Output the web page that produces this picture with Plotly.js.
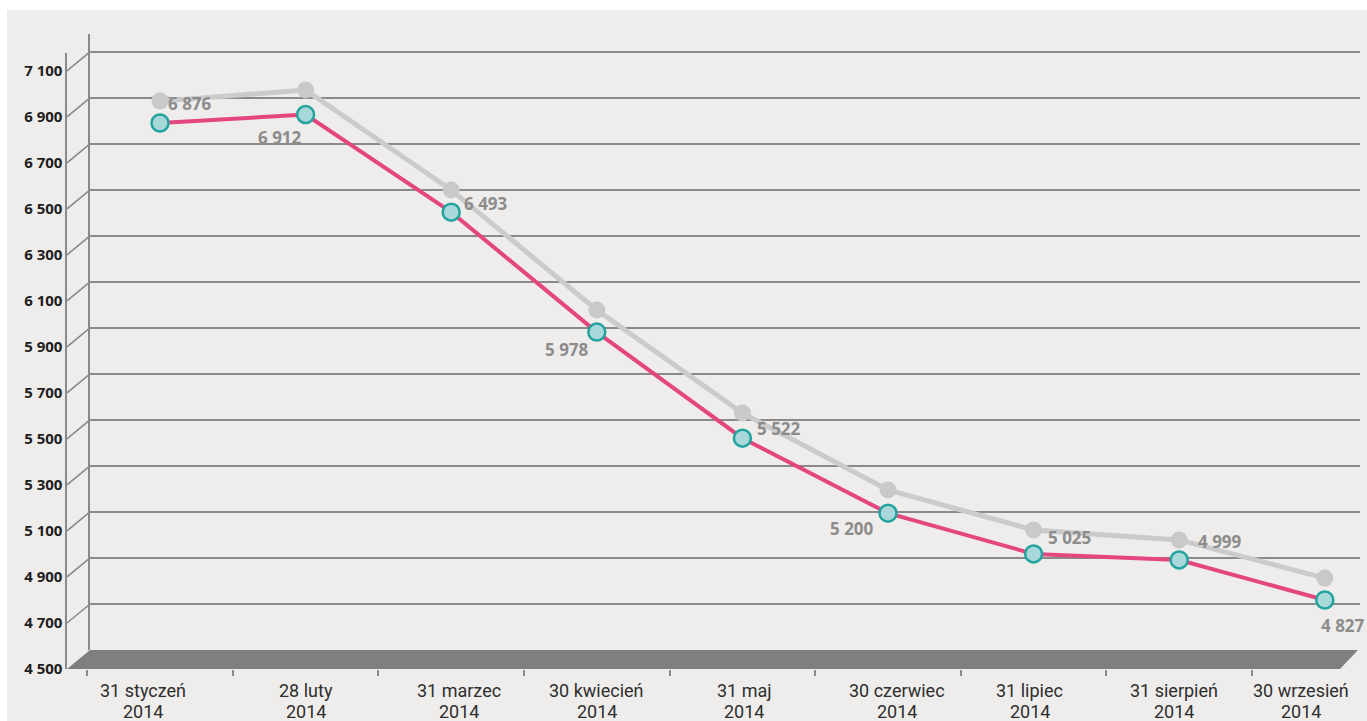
<!DOCTYPE html>
<html>
<head>
<meta charset="utf-8">
<script src="https://cdn.plot.ly/plotly-3.0.1.min.js"></script>
<style>html,body{margin:0;padding:0;background:#fff;}#chart{width:1367px;height:721px;}</style>
</head>
<body>
<div id="chart"></div>
<script>
// ---- data ----
const months = ["31 styczeń", "28 luty", "31 marzec", "30 kwiecień", "31 maj", "30 czerwiec", "31 lipiec", "31 sierpień", "30 wrzesień"];
const years = ["2014", "2014", "2014", "2014", "2014", "2014", "2014", "2014", "2014"];
const mainValues = [6876, 6912, 6493, 5978, 5522, 5200, 5025, 4999, 4827];
const shadowValues = [6970, 7018, 6588, 6073, 5630, 5300, 5128, 5085, 4921];
const yTickVals = [4500, 4700, 4900, 5100, 5300, 5500, 5700, 5900, 6100, 6300, 6500, 6700, 6900, 7100];
const yTickText = ["4 500", "4 700", "4 900", "5 100", "5 300", "5 500", "5 700", "5 900", "6 100", "6 300", "6 500", "6 700", "6 900", "7 100"];

// ---- layout helpers (pixels -> paper) ----
const W = 1367, H = 721;
const px = x => x / W;
const py = y => 1 - y / H;
const front = {bot: 669, top: 53, lo: 4500, hi: 7178, x: 67};
const back = {bot: 650, top: 34, lo: 4500, hi: 7178, x: 90, right: 1360};
const fy = v => front.bot - (v - front.lo) * (front.bot - front.top) / (front.hi - front.lo);
const by = v => back.bot - (v - back.lo) * (back.bot - back.top) / (back.hi - back.lo);

const cats = months.map((m, i) => m + " " + years[i]);
const fmt = v => String(v).replace(/\B(?=(\d{3})+(?!\d))/g, " ");

// label offsets relative to main point (pixels)
const labelShift = [[30, 19], [-26, -23], [35, 9], [-30, -17], [37, 10], [-36, -15], [36, 16], [41, 18], [18, -25]];
// category label horizontal nudges (pixels)
const catShift = [-17, 0, 8, 0, 2, 9, -4, -5, -24];

const traces = [
  { x: [0.5], y: [5000], xaxis: "x", yaxis: "y", type: "scatter", mode: "markers",
    marker: {opacity: 0}, hoverinfo: "skip", showlegend: false },
  { x: [0.5], y: [5000], xaxis: "x2", yaxis: "y2", type: "scatter", mode: "markers",
    marker: {opacity: 0}, hoverinfo: "skip", showlegend: false },
  {
    x: cats, y: shadowValues, xaxis: "x3", yaxis: "y3", type: "scatter", mode: "lines+markers",
    line: {color: "#cbcbcb", width: 5}, marker: {size: 17, color: "#c9c9c9"},
    hoverinfo: "skip", showlegend: false
  },
  {
    x: cats, y: mainValues, xaxis: "x3", yaxis: "y3", type: "scatter", mode: "lines+markers",
    line: {color: "#e4477f", width: 4}, marker: {size: 17, color: "#a9d8db", line: {color: "#22a39d", width: 2.5}},
    showlegend: false
  }
];

const shapes = [];
shapes.push({type: "rect", xref: "paper", yref: "paper", x0: px(7), x1: 1, y0: 0, y1: py(10),
  fillcolor: "#efedeb", line: {width: 0}, layer: "below"});
yTickVals.forEach(v => {
  if (v === 4500) return;
  shapes.push({type: "line", xref: "paper", yref: "paper",
    x0: px(front.x), y0: py(fy(v)), x1: px(back.x), y1: py(by(v)),
    line: {color: "#8a8a8a", width: 1.6}});
});
shapes.push({type: "path", xref: "paper", yref: "paper",
  path: `M ${px(front.x)} ${py(fy(4500))} L ${px(back.x)} ${py(by(4500))} L ${px(1358)} ${py(by(4500))} L ${px(1340)} ${py(fy(4500))} Z`,
  fillcolor: "#7f7f7f", line: {width: 0}});

const annotations = mainValues.map((v, i) => ({
  x: i, y: v, xref: "x3", yref: "y3", text: fmt(v), showarrow: false,
  xshift: labelShift[i][0], yshift: labelShift[i][1],
  font: {family: "Open Sans, Noto Sans, sans-serif", size: 17, color: "#8c8c8c", weight: "bold"}
}));
const catFont = {family: "Liberation Sans Narrow, Roboto, sans-serif", size: 18, color: "#2e2e2e"};
months.forEach((m, i) => {
  annotations.push({
    x: i, y: py(690), xref: "x3", yref: "paper", yanchor: "middle", text: m, showarrow: false,
    xshift: catShift[i], font: catFont
  });
  annotations.push({
    x: i, y: py(711), xref: "x3", yref: "paper", yanchor: "middle", text: years[i], showarrow: false,
    xshift: catShift[i], font: catFont
  });
});

const layout = {
  width: W, height: H,
  margin: {l: 0, r: 0, t: 0, b: 0, pad: 0},
  paper_bgcolor: "#ffffff", plot_bgcolor: "rgba(0,0,0,0)",
  showlegend: false,
  xaxis: { domain: [px(back.x), px(back.right)], anchor: "y", range: [0, 1], visible: false, fixedrange: true },
  yaxis: {
    domain: [py(back.bot), py(back.top)], range: [back.lo, back.hi], anchor: "x",
    showgrid: true, gridcolor: "#8a8a8a", gridwidth: 2,
    tickvals: yTickVals.filter(v => v > 4500), showticklabels: false, ticks: "",
    zeroline: false, showline: true, linecolor: "#8a8a8a", linewidth: 2, fixedrange: true
  },
  xaxis2: { domain: [px(front.x), px(front.x + 2)], anchor: "y2", range: [0, 1], visible: false, fixedrange: true },
  yaxis2: {
    domain: [py(front.bot), py(front.top)], range: [front.lo, front.hi], anchor: "x2", side: "left",
    showgrid: false, zeroline: false, showline: true, linecolor: "#8a8a8a", linewidth: 1.6,
    tickvals: yTickVals, ticktext: yTickText, ticks: "",
    tickfont: {family: "Open Sans, Noto Sans, sans-serif", size: 15, color: "#1e1e1e", weight: "bold"},
    automargin: false, fixedrange: true
  },
  xaxis3: {
    type: "category", domain: [px(66), 1], anchor: "y3",
    range: [(66 - 160) / 145.6, (1367 - 160) / 145.6],
    showgrid: false, zeroline: false, showline: false, showticklabels: false,
    ticks: "outside", tickson: "boundaries", ticklen: 6, tickwidth: 2, tickcolor: "#8a8a8a",
    automargin: false, fixedrange: true
  },
  yaxis3: {
    domain: [py(front.bot), py(front.top)], anchor: "x3", range: [4530.6, 7176.7],
    showgrid: false, zeroline: false, showline: false, showticklabels: false, ticks: "", fixedrange: true
  },
  shapes: shapes,
  annotations: annotations
};

Plotly.newPlot("chart", traces, layout, {displayModeBar: false, staticPlot: true});
</script>
</body>
</html>
